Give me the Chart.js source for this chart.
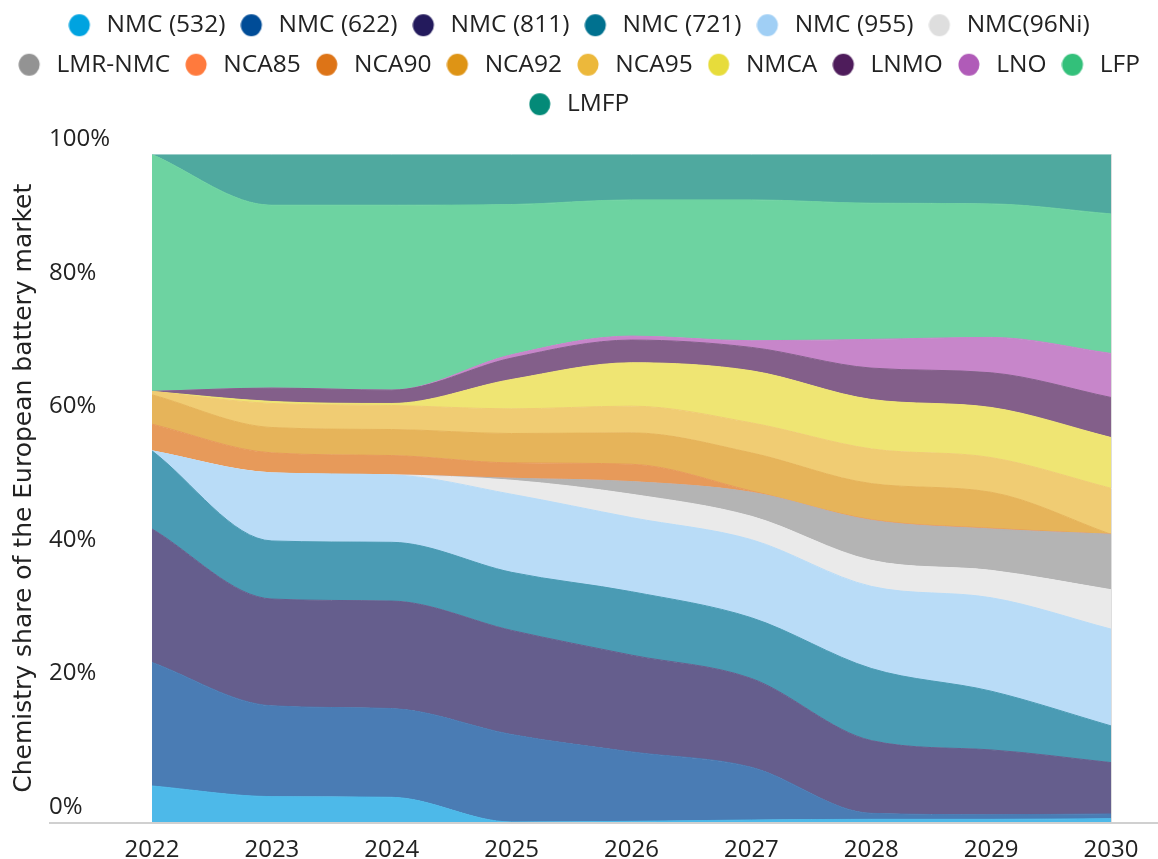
<!DOCTYPE html>
<html lang="en">
<head>
<meta charset="UTF-8">
<title>Chemistry share of the European battery market</title>
<script src="https://cdn.jsdelivr.net/npm/chart.js"></script>
<style>
  html, body { margin: 0; background: #fff; }
</style>
</head>
<body>
<canvas id="chemChart" width="1158" height="859"></canvas>
<script>
// years on the x axis
const years = ['2022', '2023', '2024', '2025', '2026', '2027', '2028', '2029', '2030'];

// share of each chemistry, % of market
const nmc532  = [5.4, 3.8, 3.7, 0.0, 0.1, 0.3, 0.4, 0.4, 0.5];
const nmc622  = [18.5, 13.6, 13.3, 13.1, 10.4, 7.9, 0.9, 0.7, 0.7];
const nmc811  = [20.0, 16.0, 16.1, 15.6, 14.5, 13.3, 10.9, 9.7, 7.7];
const nmc721  = [11.7, 8.7, 8.8, 8.7, 9.5, 9.1, 10.8, 8.8, 5.5];
const nmc955  = [0.0, 10.2, 10.1, 11.7, 11.1, 11.7, 12.3, 14.0, 14.5];
const nmc96ni = [0.0, 0.0, 0.0, 2.1, 3.5, 3.5, 3.9, 4.1, 5.9];
const lmrNmc  = [0.0, 0.0, 0.0, 0.3, 1.9, 3.6, 6.0, 6.2, 8.3];
const nca85   = [0, 0, 0, 0, 0, 0, 0, 0, 0];
const nca90   = [4.0, 3.0, 2.9, 2.3, 2.6, 0.2, 0.1, 0.1, 0.0];
const nca92   = [4.4, 3.8, 3.9, 4.4, 4.7, 5.7, 5.4, 5.4, 0.0];
const nca95   = [0.5, 3.6, 3.6, 3.7, 4.0, 4.5, 5.2, 5.2, 6.9];
const nmca    = [0.0, 0.3, 0.3, 4.4, 6.5, 7.8, 7.4, 7.5, 7.6];
const lnmo    = [0.0, 2.0, 2.0, 3.2, 3.4, 3.5, 4.7, 5.2, 6.0];
const lno     = [0.0, 0.0, 0.0, 0.5, 0.6, 1.0, 4.3, 5.3, 6.6];
const lfp     = [35.5, 27.4, 27.7, 22.5, 20.4, 21.1, 20.4, 20.0, 20.9];
const lmfp    = [0.0, 7.6, 7.6, 7.5, 6.8, 6.8, 7.3, 7.4, 8.9];

const seriesNames = ['NMC (532)', 'NMC (622)', 'NMC (811)', 'NMC (721)', 'NMC (955)', 'NMC(96Ni)',
  'LMR-NMC', 'NCA85', 'NCA90', 'NCA92', 'NCA95', 'NMCA', 'LNMO', 'LNO', 'LFP', 'LMFP'];
const seriesData = [nmc532, nmc622, nmc811, nmc721, nmc955, nmc96ni,
  lmrNmc, nca85, nca90, nca92, nca95, nmca, lnmo, lno, lfp, lmfp];

// legend dots are full colour, areas are the washed out version
const dotColors = ['#00a3e0', '#004c97', '#231a5c', '#00718f', '#a0cff5', '#dedede',
  '#939393', '#ff7a3d', '#dd7417', '#de9415', '#ecb83b', '#e7dc3b', '#4e1c5b', '#b05bb8', '#33c07a', '#048a78'];
const areaColors = ['#4db9e9', '#4a7cb4', '#655e8d', '#4a9bb4', '#b9dcf7', '#eaeaea',
  '#b4b4b4', '#ffa06f', '#e79a5a', '#e6b45a', '#f0cc73', '#efe573', '#835f8a', '#c786ca', '#6dd3a1', '#4fa99f'];

Chart.defaults.font.family = "'Open Sans', sans-serif";
Chart.defaults.color = '#222';

function makeDot(color) {
  const c = document.createElement('canvas');
  c.width = 26;
  c.height = 24;
  const g = c.getContext('2d');
  g.fillStyle = color;
  g.beginPath();
  g.ellipse(11, 12, 10.5, 11, 0, 0, Math.PI * 2);
  g.fill();
  return c;
}
const dots = dotColors.map(makeDot);

// extra room under the legend + the long baseline under the plot
const layoutTweaks = {
  id: 'layoutTweaks',
  beforeLayout(chart) {
    const lg = chart.legend;
    if (lg && !lg._stretched) {
      const fit = lg.fit;
      lg.fit = function () { fit.call(this); this.height += 28; };
      lg._stretched = true;
    }
  },
  afterDatasetsDraw(chart) {
    const {ctx, chartArea} = chart;
    ctx.save();
    ctx.strokeStyle = '#d0d0d0';
    ctx.lineWidth = 2;
    ctx.beginPath();
    ctx.moveTo(chart.scales.y.left, chartArea.bottom + 1);
    ctx.lineTo(chart.width, chartArea.bottom + 1);
    ctx.stroke();
    ctx.restore();
  }
};

const datasets = seriesNames.map((name, i) => ({
  label: name,
  data: seriesData[i],
  yAxisID: 'y',
  fill: i === 0 ? 'origin' : '-1',
  backgroundColor: areaColors[i],
  borderColor: areaColors[i],
  borderWidth: 1,
  pointRadius: 0,
  pointHoverRadius: 0,
  cubicInterpolationMode: 'monotone'
}));

new Chart(document.getElementById('chemChart'), {
  type: 'line',
  data: { labels: years, datasets },
  options: {
    responsive: false,
    animation: false,
    layout: { padding: { top: -2, left: 0, right: 0, bottom: 0 } },
    plugins: {
      tooltip: { enabled: false },
      legend: {
        position: 'top',
        labels: {
          usePointStyle: true,
          pointStyleWidth: 26,
          padding: 15,
          color: '#222',
          font: { size: 24.5 },
          generateLabels(chart) {
            const items = Chart.defaults.plugins.legend.labels.generateLabels(chart);
            items.forEach((it, i) => {
              it.pointStyle = dots[i];
              it.lineWidth = 0;
            });
            return items;
          }
        }
      }
    },
    scales: {
      x: {
        type: 'category',
        offset: false,
        grid: { display: false },
        border: { display: false },
        ticks: { font: { size: 24 }, color: '#222', padding: 6, maxRotation: 0, autoSkip: false },
        afterFit(s) { s.height = 37; }
      },
      y: {
        stacked: true,
        min: 0,
        max: 100,
        position: 'left',
        grid: { display: false, drawTicks: false },
        border: { display: false },
        ticks: {
          stepSize: 20,
          font: { size: 24 },
          color: '#222',
          crossAlign: 'far',
          labelOffset: -15,
          callback: v => v + '%'
        },
        afterFit(s) { s.width = 103; }
      },
      yTitle: {
        type: 'linear',
        position: 'left',
        weight: 1,
        grid: { display: false, drawTicks: false },
        border: { display: false },
        ticks: { display: false },
        title: {
          display: true,
          text: 'Chemistry share of the European battery market',
          font: { family: "'DejaVu Sans', sans-serif", size: 25 },
          color: '#222',
          padding: { top: 9, bottom: 0 }
        },
        afterFit(s) { s.width = 49; }
      },
      yEdge: {
        type: 'linear',
        position: 'right',
        grid: { display: false, drawTicks: false },
        border: { display: true, color: '#dedede', width: 1 },
        ticks: { display: false },
        afterFit(s) { s.width = 47; }
      }
    }
  },
  plugins: [layoutTweaks]
});
</script>
</body>
</html>
